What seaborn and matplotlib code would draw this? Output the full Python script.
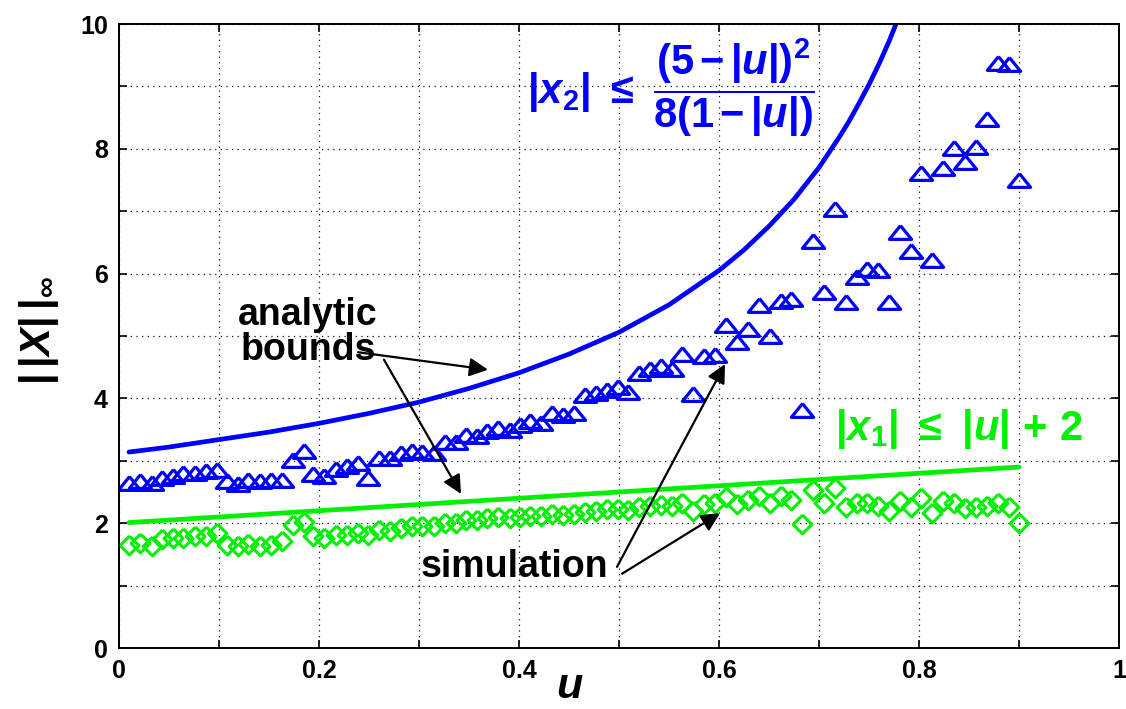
import numpy as np
import pandas as pd
import matplotlib
matplotlib.use("Agg")
import matplotlib.pyplot as plt
import seaborn as sns

# ---------------- data ----------------
u_sim = [0.010, 0.021, 0.033, 0.043, 0.054, 0.064, 0.076, 0.087, 0.098, 0.108,
         0.119, 0.129, 0.141, 0.152, 0.163, 0.174, 0.185, 0.194, 0.205, 0.217,
         0.228, 0.239, 0.249, 0.260, 0.271, 0.282, 0.293, 0.303, 0.315, 0.326,
         0.337, 0.347, 0.358, 0.368, 0.379, 0.391, 0.401, 0.411, 0.422, 0.433,
         0.444, 0.455, 0.466, 0.477, 0.488, 0.499, 0.509, 0.520, 0.531, 0.542,
         0.553, 0.563, 0.574, 0.585, 0.596, 0.607, 0.618, 0.629, 0.640, 0.651,
         0.662, 0.672, 0.683, 0.694, 0.705, 0.716, 0.727, 0.738, 0.748, 0.759,
         0.770, 0.781, 0.792, 0.802, 0.813, 0.824, 0.835, 0.846, 0.857, 0.868,
         0.879, 0.890, 0.900]
x2_sim = [2.64, 2.68, 2.64, 2.72, 2.76, 2.80, 2.80, 2.83, 2.86, 2.67,
          2.63, 2.70, 2.67, 2.70, 2.70, 3.02, 3.15, 2.79, 2.76, 2.87,
          2.91, 2.96, 2.73, 3.04, 3.04, 3.12, 3.15, 3.14, 3.12, 3.30,
          3.30, 3.41, 3.39, 3.47, 3.52, 3.50, 3.57, 3.64, 3.61, 3.77,
          3.73, 3.77, 4.05, 4.09, 4.13, 4.18, 4.11, 4.41, 4.47, 4.52,
          4.47, 4.71, 4.07, 4.68, 4.70, 5.18, 4.91, 5.12, 5.50, 5.00,
          5.56, 5.59, 3.81, 6.53, 5.71, 7.04, 5.55, 5.94, 6.08, 6.05,
          5.55, 6.67, 6.37, 7.61, 6.21, 7.69, 8.02, 7.79, 8.03, 8.48,
          9.37, 9.36, 7.50]
x1_sim = [1.65, 1.68, 1.63, 1.74, 1.77, 1.77, 1.79, 1.80, 1.84, 1.65,
          1.63, 1.67, 1.63, 1.65, 1.71, 1.97, 2.02, 1.79, 1.77, 1.81,
          1.81, 1.84, 1.81, 1.89, 1.87, 1.92, 1.95, 1.95, 1.95, 2.00,
          2.00, 2.05, 2.05, 2.08, 2.10, 2.08, 2.10, 2.12, 2.11, 2.14,
          2.13, 2.15, 2.18, 2.20, 2.22, 2.23, 2.21, 2.26, 2.28, 2.29,
          2.27, 2.33, 2.19, 2.30, 2.33, 2.42, 2.30, 2.37, 2.44, 2.32,
          2.44, 2.37, 1.99, 2.53, 2.33, 2.57, 2.26, 2.33, 2.33, 2.28,
          2.19, 2.35, 2.26, 2.40, 2.17, 2.35, 2.33, 2.25, 2.26, 2.28,
          2.33, 2.26, 2.01]

# analytic bound curves
u_b2 = [0.01, 0.05, 0.10, 0.15, 0.20, 0.25, 0.30, 0.35, 0.40, 0.45, 0.50,
        0.55, 0.60, 0.625, 0.65, 0.675, 0.70, 0.72, 0.73, 0.74, 0.75, 0.76,
        0.77, 0.78]
x2_b = [3.14, 3.22, 3.34, 3.46, 3.60, 3.76, 3.94, 4.16, 4.41, 4.71, 5.06,
        5.50, 6.05, 6.38, 6.76, 7.19, 7.70, 8.18, 8.44, 8.73, 9.03, 9.36,
        9.72, 10.12]
u_b1 = [0.01, 0.90]
x1_b = [2.01, 2.90]

xticks = [0.0, 0.1, 0.2, 0.3, 0.4, 0.5, 0.6, 0.7, 0.8, 0.9, 1.0]
xticklabels = ["0", "", "0.2", "", "0.4", "", "0.6", "", "0.8", "", "1"]
yticks = [0, 1, 2, 3, 4, 5, 6, 7, 8, 9, 10]
yticklabels = ["0", "", "2", "", "4", "", "6", "", "8", "", "10"]

BLUE = "#0000FF"
GREEN = "#00F000"

# ---------------- style ----------------
sns.set_theme(style="ticks")
plt.rcParams["font.family"] = ["Liberation Sans", "DejaVu Sans"]
plt.rcParams["font.weight"] = "bold"
plt.rcParams["text.color"] = "black"
plt.rcParams["axes.labelcolor"] = "black"
plt.rcParams["mathtext.fontset"] = "custom"
plt.rcParams["mathtext.rm"] = "Liberation Sans:bold"
plt.rcParams["mathtext.it"] = "Liberation Sans:italic"
plt.rcParams["mathtext.bf"] = "Liberation Sans:bold:italic"
plt.rcParams["mathtext.sf"] = "Liberation Sans"

fig = plt.figure(figsize=(11.26, 7.09), dpi=100)
ax = fig.add_axes([119 / 1126, 61 / 709, 1000 / 1126, 624 / 709])

sim2 = pd.DataFrame({"u": u_sim, "x": x2_sim})
sim1 = pd.DataFrame({"u": u_sim, "x": x1_sim})
bnd2 = pd.DataFrame({"u": u_b2, "x": x2_b})
bnd1 = pd.DataFrame({"u": u_b1, "x": x1_b})

tri = [(0, 0.62), (-1, -0.62), (1, -0.62), (0, 0.62)]
dia = [(0, 1), (1, 0), (0, -1), (-1, 0), (0, 1)]

sns.lineplot(data=bnd2, x="u", y="x", ax=ax, color=BLUE, lw=3.4, sort=False)
sns.lineplot(data=bnd1, x="u", y="x", ax=ax, color=GREEN, lw=3.4, sort=False)
sns.lineplot(data=sim2, x="u", y="x", ax=ax, linestyle="", marker=tri,
             markersize=16, markerfacecolor="none", markeredgecolor=BLUE,
             markeredgewidth=2.3, sort=False)
sns.lineplot(data=sim1, x="u", y="x", ax=ax, linestyle="", marker=dia,
             markersize=13.5, markerfacecolor="none", markeredgecolor=GREEN,
             markeredgewidth=2.2, sort=False)

ax.set_xlim(0, 1)
ax.set_ylim(0, 10)
ax.set_xticks(xticks)
ax.set_xticklabels(xticklabels, fontsize=18, fontweight="bold")
ax.set_yticks(yticks)
ax.set_yticklabels(yticklabels, fontsize=18, fontweight="bold")
ax.tick_params(direction="in", length=6, width=1.2, top=True, right=True,
               pad=8, colors="black")
ax.grid(True, color="#111111", linestyle=(0, (1, 3.5)), linewidth=0.9)
for s in ax.spines.values():
    s.set_linewidth(1.4)
    s.set_color("black")

ax.set_xlabel(r"$\mathbf{u}$", fontsize=31)
ax.xaxis.set_label_coords(0.451, -0.080)
ax.xaxis.label.set_va("baseline")
ax.set_ylabel(r"$\mathsf{|}\,\mathsf{|}\mathit{X}\mathsf{|}\,\mathsf{|}_{\infty}$",
              fontsize=30, fontweight="normal")
ax.yaxis.set_label_coords(-0.080, 0.508)
ax.yaxis.label.set_va("center")

# formulas
B = r"\mathsf{|}"
ax.text(0.552, 8.98,
        r"$" + B + r"\mathbf{x}_{2}" + B + r"\ \mathsf{\leq}\ \dfrac{(5\,\mathsf{-}\,"
        + B + r"\mathbf{u}" + B + r")^{2}}{8(1\,\mathsf{-}\," + B + r"\mathbf{u}" + B + r")}$",
        color=BLUE, fontsize=30, ha="center", va="center")
ax.text(0.840, 3.51,
        r"$" + B + r"\mathbf{x}_{1}" + B + r"\ \mathsf{\leq}\ " + B + r"\mathbf{u}" + B
        + r"\ \mathsf{+}\ 2$",
        color=GREEN, fontsize=30, ha="center", va="center")

# annotations
ax.text(0.189, 5.06, "analytic\nbounds", fontsize=27, fontweight="bold",
        ha="center", va="center", linespacing=0.95, color="black")
ax.text(0.395, 1.30, "simulation", fontsize=27, fontweight="bold",
        ha="center", va="center", color="black")

ap = dict(arrowstyle="-|>", mutation_scale=28, lw=1.6, color="black",
          shrinkA=0, shrinkB=0)
ax.annotate("", xy=(0.369, 4.46), xytext=(0.239, 4.74), arrowprops=ap)
ax.annotate("", xy=(0.342, 2.47), xytext=(0.265, 4.62), arrowprops=ap)
ax.annotate("", xy=(0.606, 4.55), xytext=(0.498, 1.30), arrowprops=ap)
ax.annotate("", xy=(0.601, 2.16), xytext=(0.503, 1.19), arrowprops=ap)

fig.savefig("out.png", dpi=100)
